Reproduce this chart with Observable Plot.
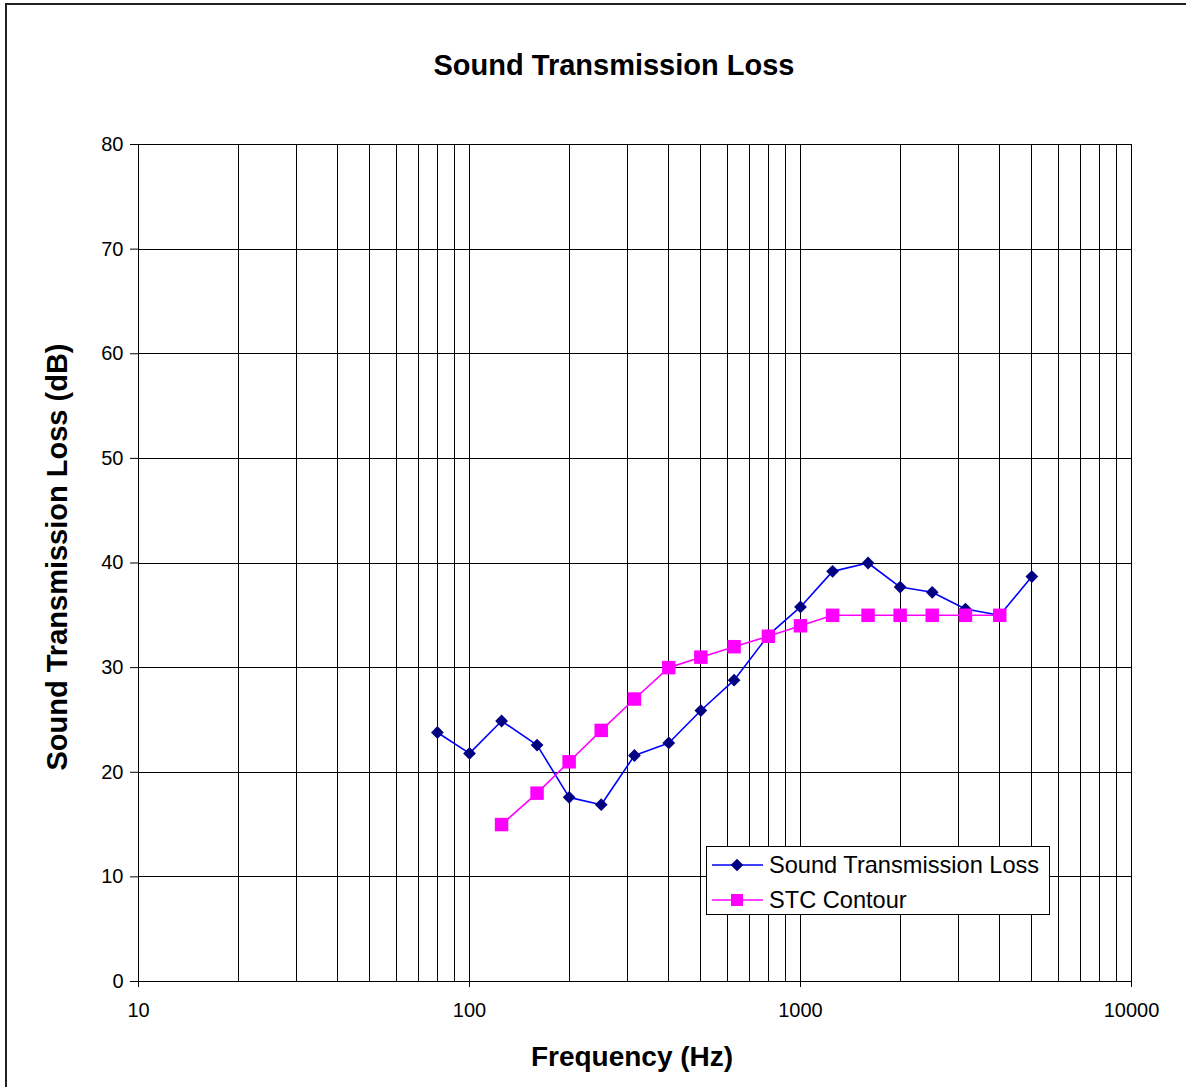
<!DOCTYPE html>
<html>
<head>
<meta charset="utf-8">
<script src="https://cdn.jsdelivr.net/npm/d3@7"></script>
<script src="https://cdn.jsdelivr.net/npm/@observablehq/plot@0.6"></script>
<style>
  html, body { margin: 0; padding: 0; background: #fff; overflow: hidden; }
  #wrap { position: relative; width: 1186px; height: 1087px; font-family: "Liberation Sans", Arial, sans-serif; }
  #border { position: absolute; left: 5px; top: 3px; width: 1300px; height: 1200px; border: 2px solid #222; box-sizing: border-box; pointer-events: none; }
  #title { position: absolute; left: 0; width: 1228px; top: 47px; text-align: center; font-weight: bold; font-size: 29px; line-height: 36px; color: #000; }
  #chart { position: absolute; left: 0; top: 0; }
  #legend { position: absolute; left: 706px; top: 846px; width: 344px; height: 69px; border: 1px solid #000; box-sizing: border-box; background: #fff; }
  .lrow { position: absolute; left: 0; height: 30px; display: flex; align-items: center; font-size: 23.6px; color: #000; white-space: nowrap; }
  .lrow svg { display: block; margin-left: 5px; margin-right: 6px; }
</style>
</head>
<body>
<div id="wrap">
  <div id="chart"></div>
  <div id="title">Sound Transmission Loss</div>
  <div id="legend"></div>
  <div id="border"></div>
</div>
<script>
// Data
const frequencies = [80, 100, 125, 160, 200, 250, 315, 400, 500, 630, 800, 1000, 1250, 1600, 2000, 2500, 3150, 4000, 5000];
const transmissionLoss = [23.8, 21.8, 24.9, 22.6, 17.6, 16.9, 21.6, 22.8, 25.9, 28.8, 33.1, 35.8, 39.2, 40.0, 37.7, 37.2, 35.6, 35.0, 38.7];
const stcFrequencies = [125, 160, 200, 250, 315, 400, 500, 630, 800, 1000, 1250, 1600, 2000, 2500, 3150, 4000];
const stcContour = [15, 18, 21, 24, 27, 30, 31, 32, 33, 34, 35, 35, 35, 35, 35, 35];
const xTicks = [10, 100, 1000, 10000];
const yTicks = [0, 10, 20, 30, 40, 50, 60, 70, 80];
const seriesNames = ["Sound Transmission Loss", "STC Contour"];
const titleText = "Sound Transmission Loss";
const xLabel = "Frequency (Hz)";
const yLabel = "Sound Transmission Loss (dB)";

const xGrid = d3.range(1, 4).flatMap(e => d3.range(1, 10).map(m => m * Math.pow(10, e))).concat([10000]);

const stl = frequencies.map((f, i) => ({f, v: transmissionLoss[i]}));
const stc = stcFrequencies.map((f, i) => ({f, v: stcContour[i]}));

const blueLine = "#0000ff", blueMark = "#000080";
const pinkLine = "#ff00ff", pinkMark = "#ff00ff";

const chart = Plot.plot({
  width: 1186,
  height: 1087,
  marginLeft: 138,
  marginRight: 55,
  marginTop: 144,
  marginBottom: 106,
  style: {background: "transparent", fontFamily: "'Liberation Sans', Arial, sans-serif", color: "#000"},
  x: {type: "log", domain: [10, 10000]},
  y: {domain: [0, 80]},
  marks: [
    Plot.ruleX(xGrid, {stroke: "#000", strokeWidth: 1, shapeRendering: "crispEdges"}),
    Plot.ruleY(yTicks, {stroke: "#000", strokeWidth: 1, shapeRendering: "crispEdges"}),
    Plot.axisX({ticks: xTicks, tickFormat: d => String(d), tickSize: 6, tickPadding: 15, fontSize: 20, label: null, stroke: "#000"}),
    Plot.axisY({ticks: yTicks, tickSize: 8, tickPadding: 7, fontSize: 20, label: null, stroke: "#000"}),
    Plot.line(stl, {x: "f", y: "v", stroke: blueLine, strokeWidth: 1.6}),
    Plot.dot(stl, {x: "f", y: "v", symbol: "square", rotate: 45, r: 5.1, fill: blueMark, stroke: null}),
    Plot.line(stc, {x: "f", y: "v", stroke: pinkLine, strokeWidth: 1.6}),
    Plot.dot(stc, {x: "f", y: "v", symbol: "square", r: 7.6, fill: pinkMark, stroke: null}),
    Plot.text([xLabel], {frameAnchor: "bottom", lineAnchor: "middle", textAnchor: "middle", dx: -3, dy: 76, fontSize: 28, fontWeight: "bold", fill: "#000"}),
    Plot.text([yLabel], {frameAnchor: "left", textAnchor: "middle", lineAnchor: "middle", rotate: -90, dx: -81, dy: -6, fontSize: 29, fontWeight: "bold", fill: "#000"})
  ]
});
document.getElementById("chart").appendChild(chart);
document.getElementById("title").textContent = titleText;

// Legend
const legend = document.getElementById("legend");
const legendItems = [
  {name: seriesNames[0], line: blueLine, mark: blueMark, shape: "diamond", top: 3},
  {name: seriesNames[1], line: pinkLine, mark: pinkMark, shape: "square", top: 38}
];
for (const it of legendItems) {
  const row = document.createElement("div");
  row.className = "lrow";
  row.style.top = it.top + "px";
  const markSvg = it.shape === "diamond"
    ? `<rect x="20.5" y="10.5" width="9" height="9" fill="${it.mark}" transform="rotate(45 25 15)"/>`
    : `<rect x="19" y="9" width="12" height="12" fill="${it.mark}"/>`;
  row.innerHTML = `<svg width="51" height="30"><line x1="0" y1="15" x2="51" y2="15" stroke="${it.line}" stroke-width="1.6"/>${markSvg}</svg><span>${it.name}</span>`;
  legend.appendChild(row);
}
</script>
</body>
</html>
